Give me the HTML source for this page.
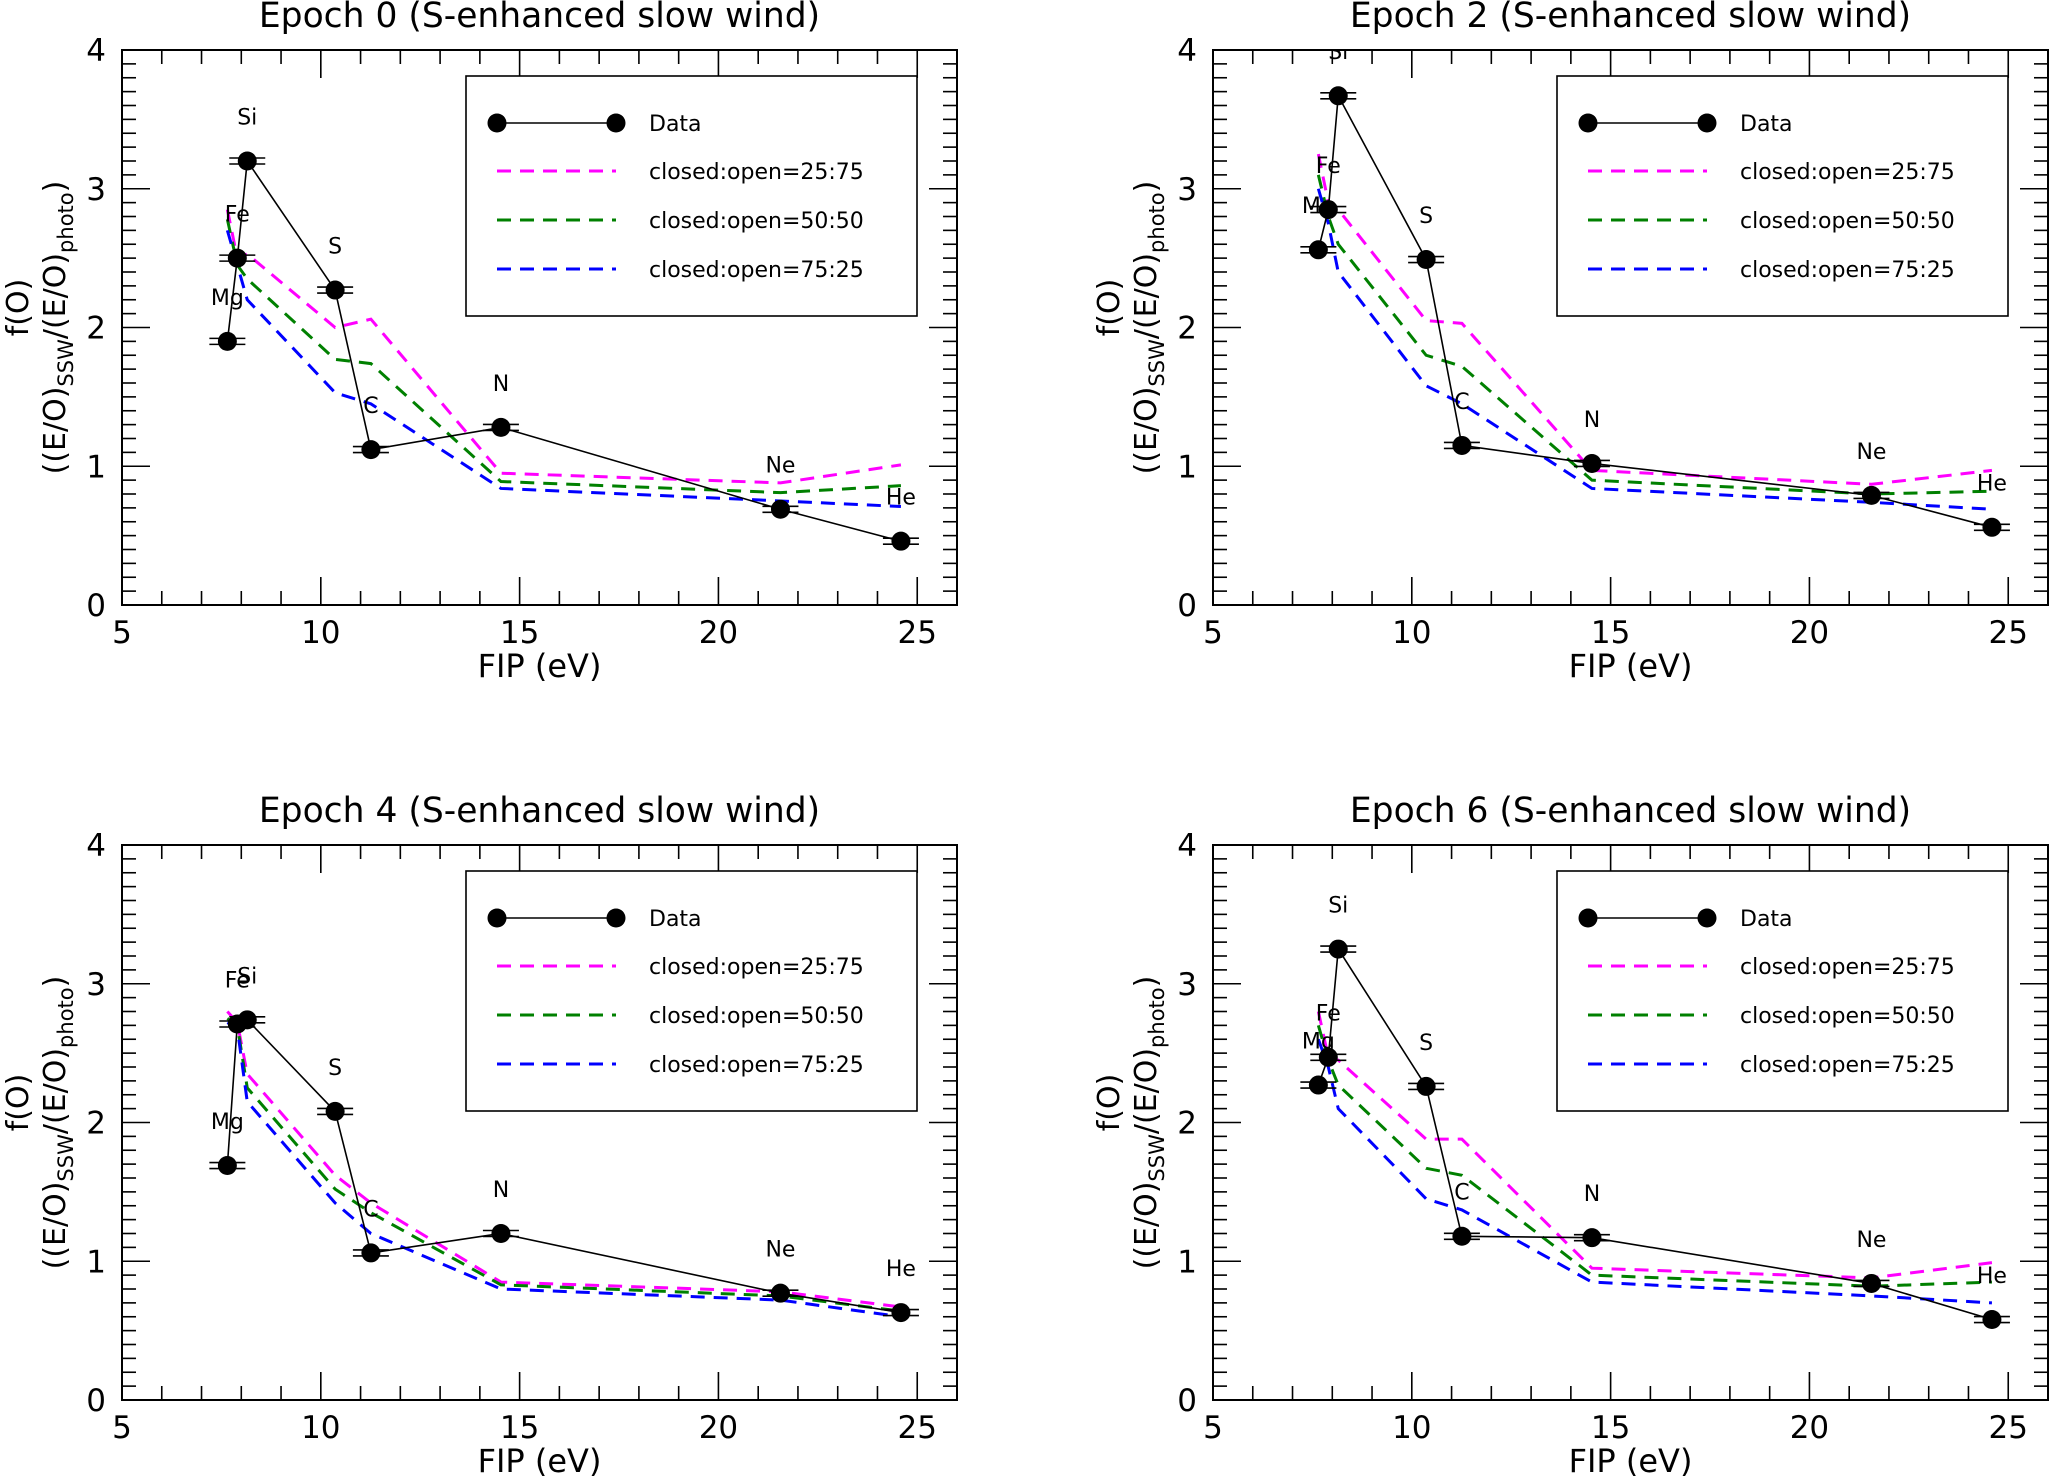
<!DOCTYPE html>
<html><head><meta charset="utf-8"><style>
html,body{margin:0;padding:0;background:#fff;}
svg{display:block;font-family:"DejaVu Sans","Liberation Sans",sans-serif;}
</style></head><body>
<svg id="fig" width="2050" height="1479" viewBox="0 0 2050 1479"></svg>
<script>
const fipValues=[7.65,7.9,8.15,10.36,11.26,14.53,21.56,24.59];
const elements=["Mg","Fe","Si","S","C","N","Ne","He"];
const titles=["Epoch 0 (S-enhanced slow wind)","Epoch 2 (S-enhanced slow wind)","Epoch 4 (S-enhanced slow wind)","Epoch 6 (S-enhanced slow wind)"];
const data0=[1.9,2.5,3.2,2.27,1.12,1.28,0.69,0.46];
const mag0=[2.85,2.5,2.53,2.0,2.06,0.95,0.88,1.01];
const grn0=[2.78,2.45,2.35,1.77,1.74,0.89,0.81,0.86];
const blu0=[2.7,2.45,2.2,1.53,1.45,0.84,0.75,0.71];
const data2=[2.56,2.85,3.67,2.49,1.15,1.02,0.79,0.56];
const mag2=[3.25,2.9,2.85,2.05,2.03,0.97,0.87,0.97];
const grn2=[3.1,2.8,2.6,1.8,1.72,0.9,0.8,0.82];
const blu2=[3.0,2.75,2.4,1.58,1.45,0.84,0.74,0.69];
const data4=[1.69,2.71,2.74,2.08,1.06,1.2,0.77,0.63];
const mag4=[2.8,2.72,2.35,1.62,1.42,0.85,0.78,0.67];
const grn4=[2.75,2.7,2.25,1.52,1.35,0.83,0.75,0.64];
const blu4=[2.72,2.68,2.15,1.42,1.2,0.8,0.72,0.6];
const data6=[2.27,2.47,3.25,2.26,1.18,1.17,0.84,0.58];
const mag6=[2.8,2.47,2.45,1.88,1.88,0.95,0.88,0.99];
const grn6=[2.7,2.45,2.27,1.67,1.62,0.9,0.82,0.85];
const blu6=[2.6,2.4,2.1,1.45,1.37,0.85,0.75,0.7];
const xTicks=[5,10,15,20,25];
const yTicks=[0,1,2,3,4];
const legendLabels=["Data","closed:open=25:75","closed:open=50:50","closed:open=75:25"];

const NS="http://www.w3.org/2000/svg";
const svg=document.getElementById('fig');
function mk(tag,attrs,parent,text){const e=document.createElementNS(NS,tag);for(const k in attrs)e.setAttribute(k,attrs[k]);if(text!==undefined)e.textContent=text;(parent||svg).appendChild(e);return e;}

const panels=[
 {x0:122,y0:50,data:data0,m:mag0,g:grn0,b:blu0,t:titles[0],id:"epoch-0"},
 {x0:1213,y0:50,data:data2,m:mag2,g:grn2,b:blu2,t:titles[1],id:"epoch-2"},
 {x0:122,y0:845,data:data4,m:mag4,g:grn4,b:blu4,t:titles[2],id:"epoch-4"},
 {x0:1213,y0:845,data:data6,m:mag6,g:grn6,b:blu6,t:titles[3],id:"epoch-6"}];
const W=835,H=555,XMIN=5,XMAX=26,YMAX=4;

panels.forEach((p,pi)=>{
 const g=mk('g',{});
 
 
 const sx=v=>p.x0+(v-XMIN)/(XMAX-XMIN)*W;
 const sy=v=>p.y0+H-v/YMAX*H;
 const cid='clip'+pi;
 const cp=mk('clipPath',{id:cid},g);mk('rect',{x:p.x0,y:p.y0,width:W,height:H},cp);
 const t=mk('text',{x:p.x0+W/2,y:p.y0-23,'font-size':34.5,'text-anchor':'middle'},g,p.t);
 
 const ax=mk('g',{stroke:'#000','stroke-width':1.6},g);
 for(let v=5;v<=26;v++){const maj=(v%5===0);const L=maj?28:14;const X=sx(v);
  mk('line',{x1:X,y1:p.y0+H,x2:X,y2:p.y0+H-L},ax);mk('line',{x1:X,y1:p.y0,x2:X,y2:p.y0+L},ax);}
 for(let i=0;i<=40;i++){const v=i/10;const maj=(i%10===0);const L=maj?28:14;const Y=sy(v);
  mk('line',{x1:p.x0,y1:Y,x2:p.x0+L,y2:Y},ax);mk('line',{x1:p.x0+W,y1:Y,x2:p.x0+W-L,y2:Y},ax);}
 xTicks.forEach(v=>{const e=mk('text',{x:sx(v),y:p.y0+H+38,'font-size':31,'text-anchor':'middle'},g,String(v));});
 yTicks.forEach(v=>{const e=mk('text',{x:p.x0-16,y:sy(v)+11,'font-size':31,'text-anchor':'end'},g,String(v));});
 const xl=mk('text',{x:p.x0+W/2,y:p.y0+H+72,'font-size':32,'text-anchor':'middle'},g,'FIP (eV)');
 
 const cy=p.y0+H/2;
 const yl=mk('g',{transform:`translate(${p.x0-57},${cy}) rotate(-90)`},g);
 
 mk('text',{x:20,y:-37,'font-size':30,'text-anchor':'middle'},yl,'f(O)');
 const t2=mk('text',{x:0,y:0,'font-size':30,'text-anchor':'middle'},yl);
 mk('tspan',{},t2,'((E/O)');mk('tspan',{'font-size':21,dy:8},t2,'SSW');mk('tspan',{dy:-8},t2,'/(E/O)');mk('tspan',{'font-size':21,dy:8},t2,'photo');mk('tspan',{dy:-8},t2,')');
 const c=mk('g',{'clip-path':`url(#${cid})`},g);
 [[p.m,'#ff00ff','model-25-75'],[p.g,'#008000','model-50-50'],[p.b,'#0000ff','model-75-25']].forEach(([arr,col,nm])=>{
  const pl=mk('polyline',{points:arr.map((v,i)=>sx(fipValues[i])+','+sy(v)).join(' '),fill:'none',stroke:col,'stroke-width':3,'stroke-dasharray':'14,9'},c);
  });
 const dl=mk('polyline',{points:p.data.map((v,i)=>sx(fipValues[i])+','+sy(v)).join(' '),fill:'none',stroke:'#000','stroke-width':1.6},c);
 
 p.data.forEach((v,i)=>{const X=sx(fipValues[i]),Y=sy(v);
  mk('line',{x1:X-18,y1:Y-3,x2:X+18,y2:Y-3,stroke:'#000','stroke-width':1.6},c);
  mk('line',{x1:X-18,y1:Y+3,x2:X+18,y2:Y+3,stroke:'#000','stroke-width':1.6},c);
  const d=mk('circle',{cx:X,cy:Y,r:9.5,fill:'#000'},c);
  
  const lb=mk('text',{x:X,y:Y-0.35*H/YMAX+12,'font-size':22,'text-anchor':'middle'},c,elements[i]);
  });
 const lg=mk('g',{},g);
 const lx=p.x0+344,ly=p.y0+26;
 mk('rect',{x:lx,y:ly,width:451,height:240,fill:'#fff',stroke:'#000','stroke-width':1.6},lg);
 const rows=[ly+47,ly+95,ly+144,ly+193];
 const cols=['#000','#ff00ff','#008000','#0000ff'];
 rows.forEach((ry,i)=>{
  const e=mk('g',{},lg);
  if(i===0){mk('line',{x1:lx+31,y1:ry,x2:lx+150,y2:ry,stroke:'#000','stroke-width':1.6},e);
   mk('circle',{cx:lx+31,cy:ry,r:9.5},e);mk('circle',{cx:lx+150,cy:ry,r:9.5},e);}
  else mk('line',{x1:lx+31,y1:ry,x2:lx+150,y2:ry,stroke:cols[i],'stroke-width':3,'stroke-dasharray':'14,9'},e);
  mk('text',{x:lx+183,y:ry+8,'font-size':22},e,legendLabels[i]);
 });
 mk('rect',{x:p.x0,y:p.y0,width:W,height:H,fill:'none',stroke:'#000','stroke-width':2},g);
});
</script>
</body></html>
